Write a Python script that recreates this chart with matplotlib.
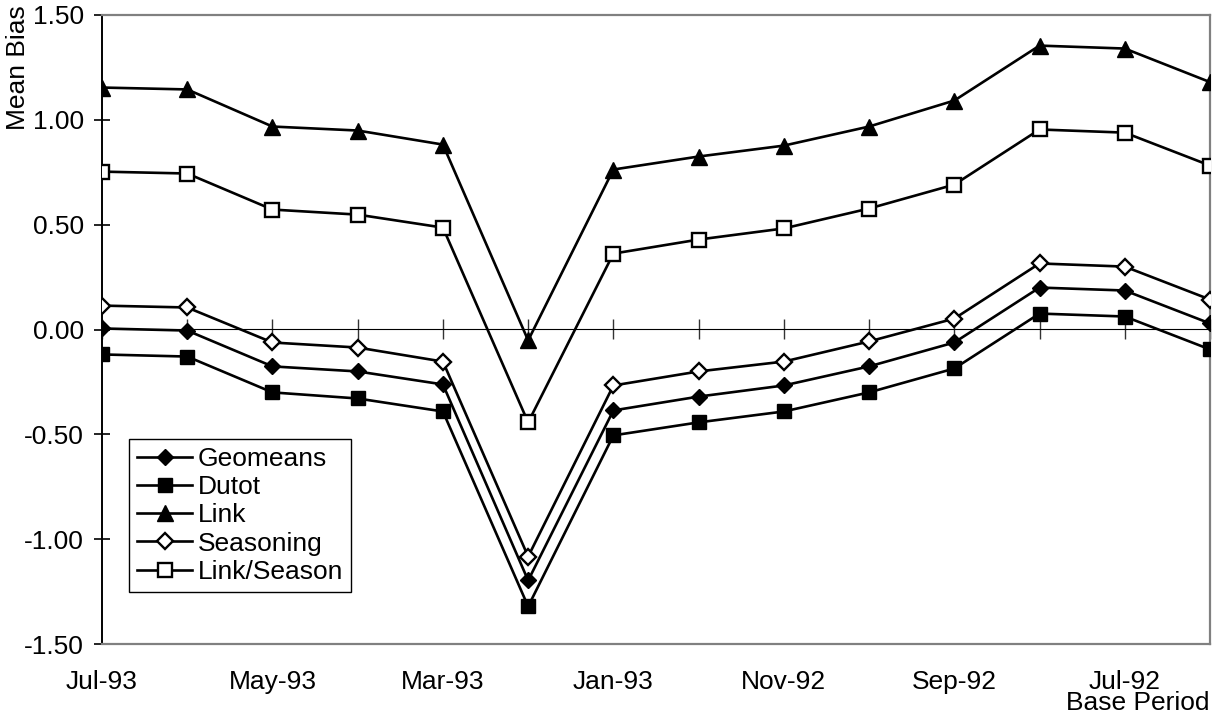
import matplotlib
matplotlib.use('Agg')
import matplotlib.pyplot as plt

plt.rcParams['font.family'] = ['Liberation Sans', 'DejaVu Sans']

periods = ['Jul-93', 'Jun-93', 'May-93', 'Apr-93', 'Mar-93', 'Feb-93', 'Jan-93',
           'Dec-92', 'Nov-92', 'Oct-92', 'Sep-92', 'Aug-92', 'Jul-92', 'Jun-92']

geomeans = [0.005, -0.005, -0.176, -0.200, -0.262, -1.197, -0.386,
            -0.320, -0.267, -0.176, -0.062, 0.200, 0.186, 0.029]
dutot = [-0.119, -0.129, -0.300, -0.329, -0.391, -1.321, -0.505,
         -0.443, -0.391, -0.300, -0.186, 0.076, 0.062, -0.095]
link = [1.154, 1.145, 0.968, 0.949, 0.882, -0.052, 0.763,
        0.825, 0.877, 0.968, 1.092, 1.354, 1.340, 1.180]
seasoning = [0.114, 0.105, -0.062, -0.086, -0.153, -1.083, -0.267,
             -0.200, -0.153, -0.057, 0.052, 0.315, 0.300, 0.143]
link_season = [0.753, 0.744, 0.572, 0.548, 0.486, -0.443, 0.362,
               0.429, 0.482, 0.577, 0.691, 0.954, 0.939, 0.782]

yticks = [1.5, 1.0, 0.5, 0.0, -0.5, -1.0, -1.5]

fs = 19

fig = plt.figure(figsize=(12.24, 7.16), dpi=100)
ax = fig.add_axes([102 / 1224, 72 / 716, 1108 / 1224, 629 / 716])

x = list(range(len(periods)))
lw = 1.9
ms = 10
ax.plot(x, geomeans, color='black', lw=lw, marker='D', ms=ms * 0.85,
        mfc='black', mec='black', label='Geomeans', zorder=3)
ax.plot(x, dutot, color='black', lw=lw, marker='s', ms=ms,
        mfc='black', mec='black', label='Dutot', zorder=3)
ax.plot(x, link, color='black', lw=lw, marker='^', ms=ms + 1,
        mfc='black', mec='black', label='Link', zorder=3)
ax.plot(x, seasoning, color='black', lw=lw, marker='D', ms=ms * 0.85,
        mfc='white', mec='black', mew=1.7, label='Seasoning', zorder=3)
ax.plot(x, link_season, color='black', lw=lw, marker='s', ms=ms,
        mfc='white', mec='black', mew=1.7, label='Link/Season', zorder=3)

ax.set_xlim(0, len(periods) - 1)
ax.set_ylim(-1.5, 1.5)
ax.set_yticks(yticks)
ax.set_yticklabels([f'{v:.2f}' for v in yticks])
ax.tick_params(axis='y', direction='inout', length=12, width=1.2,
               labelsize=fs, pad=7)

# category labels along the bottom, every other period
ax.set_xticks(x[::2])
ax.set_xticklabels(periods[::2])
ax.tick_params(axis='x', length=0, labelsize=fs, pad=19)

for side in ['top', 'right', 'bottom']:
    ax.spines[side].set_color('#808080')
    ax.spines[side].set_linewidth(1.6)
ax.spines['left'].set_color('black')
ax.spines['left'].set_linewidth(1.4)

# zero line with a tick at every period
zero_axis = ax.secondary_xaxis(0.5)
zero_axis.set_xticks(x)
zero_axis.set_xticklabels([])
zero_axis.tick_params(direction='inout', length=14, width=1.0, color='#333333')
zero_axis.spines['bottom'].set_color('#555555')
zero_axis.spines['bottom'].set_linewidth(1.0)

fig.text(18 / 1224, 1 - 5 / 716, 'Mean Bias', rotation=90,
         ha='center', va='top', fontsize=fs)
fig.text(1210 / 1224, 1 - 710 / 716, 'Base Period', ha='right',
         va='baseline', fontsize=fs)

leg = ax.legend(loc='upper left', bbox_to_anchor=(27 / 1108, (644 - 439) / 629),
                borderaxespad=0, fontsize=fs, handlelength=2.1,
                handletextpad=0.2, labelspacing=0.16, borderpad=0.3,
                fancybox=False, framealpha=1, edgecolor='black')
leg.get_frame().set_linewidth(1.0)

fig.savefig('out.png', dpi=100)
